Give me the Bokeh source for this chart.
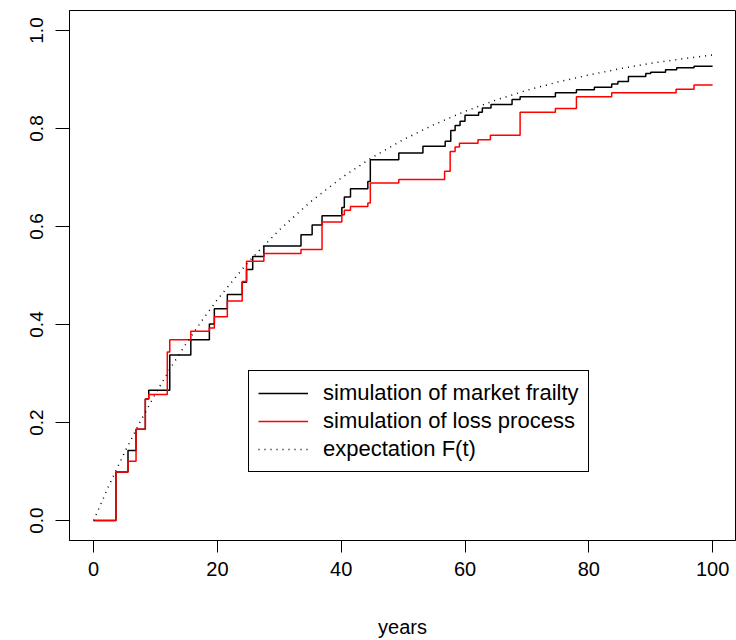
from bokeh.plotting import figure
from bokeh.models import Range1d, FixedTicker, Legend, LegendItem
from bokeh.embed import file_html
from bokeh.resources import INLINE

# ---- data ----
frailty_t = [0, 3.6, 5.55, 6.85, 8.35, 8.9, 12.3, 15.7, 18.7, 19.5, 21.6, 24.0, 24.7, 25.7,
             27.5, 33.5, 35.3, 36.9, 40.1, 40.5, 41.5, 44.3, 44.7, 49.3, 53.2, 56.8, 57.7,
             58.4, 59.2, 60.0, 62.2, 62.8, 64.2, 67.6, 68.9, 74.6, 78.0, 80.9, 83.7, 84.7,
             86.4, 89.2, 90.0, 92.4, 94.2, 97.0, 100]
frailty_v = [0, 0.099, 0.143, 0.186, 0.248, 0.266, 0.338, 0.369, 0.401, 0.432, 0.461, 0.486,
             0.512, 0.539, 0.560, 0.583, 0.603, 0.622, 0.639, 0.660, 0.677, 0.692, 0.736,
             0.750, 0.764, 0.774, 0.796, 0.806, 0.815, 0.827, 0.833, 0.842, 0.849, 0.859,
             0.865, 0.873, 0.879, 0.884, 0.891, 0.896, 0.906, 0.912, 0.915, 0.920, 0.924,
             0.927, 0.927]

loss_t = [0, 3.6, 5.55, 6.85, 8.35, 8.9, 11.9, 12.3, 15.7, 18.7, 19.5, 21.6, 24.0, 24.7,
          27.5, 33.5, 36.9, 40.1, 40.5, 41.5, 44.3, 44.7, 49.3, 56.7, 57.6, 58.4, 59.1,
          62.1, 64.1, 68.9, 74.6, 78.0, 83.7, 94.1, 97.0, 100]
loss_v = [0, 0.099, 0.121, 0.186, 0.248, 0.257, 0.344, 0.369, 0.386, 0.393, 0.416, 0.448,
          0.488, 0.529, 0.545, 0.553, 0.609, 0.624, 0.633, 0.641, 0.648, 0.689, 0.696,
          0.713, 0.753, 0.762, 0.770, 0.777, 0.786, 0.833, 0.841, 0.865, 0.873, 0.880,
          0.889, 0.889]

expect_t = [0, 2.5, 5, 7.5, 10, 12.5, 15, 17.5, 20, 25, 30, 35, 40, 45, 50, 55, 60, 65, 70,
            75, 80, 85, 90, 95, 100]
expect_v = [0, 0.072, 0.139, 0.201, 0.259, 0.313, 0.362, 0.408, 0.451, 0.528, 0.593, 0.650,
            0.699, 0.741, 0.777, 0.808, 0.835, 0.858, 0.878, 0.895, 0.909, 0.922, 0.933,
            0.942, 0.950]

x_ticks = [0, 20, 40, 60, 80, 100]
x_tick_labels = ["0", "20", "40", "60", "80", "100"]
y_ticks = [0.0, 0.2, 0.4, 0.6, 0.8, 1.0]
y_tick_labels = ["0.0", "0.2", "0.4", "0.6", "0.8", "1.0"]

legend_labels = ["simulation of market frailty", "simulation of loss process", "expectation F(t)"]

FONT = "Liberation Sans"

p = figure(width=736, height=640, output_backend="svg", toolbar_location=None,
           x_range=Range1d(-3.9, 103.7), y_range=Range1d(-0.0408, 1.0408),
           min_border_left=69, min_border_right=1, min_border_top=10, min_border_bottom=100)

p.background_fill_color = "white"
p.border_fill_color = "white"
p.outline_line_color = "black"
p.outline_line_width = 1
p.outline_line_alpha = 1
p.xgrid.visible = False
p.ygrid.visible = False

r1 = p.step(frailty_t, frailty_v, mode="after", line_color="black", line_width=1.5)
r2 = p.step(loss_t, loss_v, mode="after", line_color="#ff0000", line_width=1.5)
r3 = p.line(expect_t, expect_v, line_color="black", line_width=1.5, line_dash="1 5")

# axes
xa = p.xaxis[0]
xa.ticker = FixedTicker(ticks=x_ticks)
xa.major_label_overrides = {t: l for t, l in zip(x_ticks, x_tick_labels)}
xa.minor_tick_line_color = None
xa.major_tick_in = 0
xa.major_tick_out = 12
xa.major_tick_line_color = "black"
xa.axis_line_color = "black"
xa.major_label_standoff = 9
xa.major_label_text_font = FONT
xa.major_label_text_font_size = "20px"
xa.major_label_text_color = "black"
xa.axis_label = "years"
xa.axis_label_text_font = FONT
xa.axis_label_text_font_size = "20px"
xa.axis_label_text_font_style = "normal"
xa.axis_label_text_color = "black"
xa.axis_label_standoff = 37

ya = p.yaxis[0]
ya.ticker = FixedTicker(ticks=y_ticks)
ya.major_label_overrides = {t: l for t, l in zip(y_ticks, y_tick_labels)}
ya.minor_tick_line_color = None
ya.major_tick_in = 0
ya.major_tick_out = 14
ya.major_tick_line_color = "black"
ya.axis_line_color = "black"
ya.major_label_standoff = 12
ya.major_label_orientation = "vertical"
ya.major_label_text_font = FONT
ya.major_label_text_font_size = "19px"
ya.major_label_text_color = "black"

legend = Legend(items=[LegendItem(label=legend_labels[0], renderers=[r1]),
                       LegendItem(label=legend_labels[1], renderers=[r2]),
                       LegendItem(label=legend_labels[2], renderers=[r3])],
                location=(179, 68))
legend.border_line_color = "black"
legend.border_line_width = 1
legend.border_line_alpha = 1
legend.background_fill_color = "white"
legend.background_fill_alpha = 1
legend.padding = 9
legend.margin = 0
legend.spacing = 2
legend.glyph_width = 50
legend.glyph_height = 24
legend.label_height = 24
legend.label_standoff = 15
legend.label_text_font = FONT
legend.label_text_font_size = "22px"
legend.label_text_color = "black"
legend.label_text_baseline = "middle"
p.add_layout(legend)

open("out.html", "w").write(file_html(p, INLINE))
